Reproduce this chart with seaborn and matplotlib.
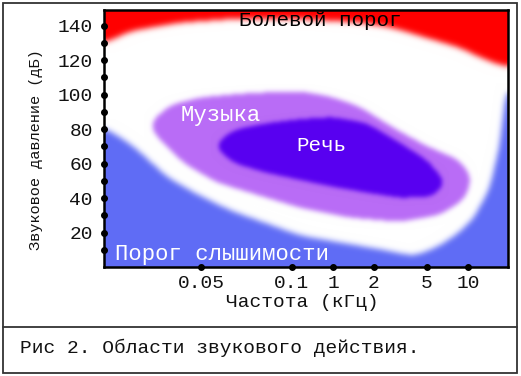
import numpy as np
import matplotlib
matplotlib.use("Agg")
import matplotlib.pyplot as plt
from matplotlib.path import Path
from matplotlib.lines import Line2D
from matplotlib.patches import Rectangle
import seaborn as sns

# ---------------- data ----------------
freq_labels = ["0.05", "0.1", "1", "2", "5", "10"]
freq_pos = [24.0, 46.5, 56.7, 66.8, 79.9, 90.1]          # position along the axis (0-100)
db_ticks = [20, 40, 60, 80, 100, 120, 140]
db_dots = list(range(10, 150, 10))

# pain threshold (lower edge of the red zone)
pain_x = [0, 6.4, 18.8, 31.2, 48.5, 63.4, 71.5, 80.0, 88.1, 94.8, 100]
pain_db = [130, 137, 142, 144, 144, 142, 139, 133, 127.5, 120, 116]

# hearing threshold (upper edge of the blue zone)
hear_x = [0, 7.2, 15.6, 23.8, 31.9, 40.3, 48.5, 58.4, 68.3, 77.0, 83.2, 88.1, 91.3, 95.5, 98.0, 99.3, 100]
hear_db = [81, 70, 52, 41, 32, 25, 18, 14, 10, 6, 12, 20, 27, 45, 70, 95, 105]

# music region outline
music_x = [10.6, 16.3, 23.8, 36.1, 48.5, 55.9, 63.4, 71.5, 80.0, 88.1, 91.3, 89.4,
           83.2, 73.3, 60.9, 48.5, 36.1, 28.0, 19.6, 13.9]
music_db = [82.3, 94, 98.5, 101, 102, 99, 93, 81, 70, 62, 51.6, 39,
            30, 26, 28.4, 34.2, 43, 48.7, 60.3, 73.6]

# speech region outline
speech_x = [27.0, 31.9, 40.3, 48.5, 56.7, 65.1, 73.3, 80.0, 84.9, 81.4, 73.3, 65.1,
            56.7, 48.5, 40.3, 31.9]
speech_db = [70.7, 79.4, 83.5, 85.8, 87, 83.5, 72, 62, 48.7, 40.6, 40, 43,
             46.4, 50.4, 54.5, 60.3]

X_MAX, Y_MAX = 100, 149

col_blue = np.array([95, 108, 245]) / 255
col_red = np.array([255, 0, 0]) / 255
col_music = np.array([185, 108, 246]) / 255
col_speech = np.array([88, 0, 240]) / 255

# ---------------- style ----------------
sns.set_theme(style="white")
plt.rcParams['font.family'] = ['Liberation Mono', 'DejaVu Sans']

fig = plt.figure(figsize=(5.21, 3.76), dpi=100)
ax = fig.add_axes([104 / 521, 1 - 267 / 376, 404 / 521, 257 / 376])

# ---------------- build field ----------------
nx, ny = 404, 257
xs = np.linspace(0, X_MAX, nx)
ys = np.linspace(0, Y_MAX, ny)
XX, YY = np.meshgrid(xs, ys)
pts = np.column_stack([XX.ravel(), YY.ravel()])


def blur(m, s):
    r = int(3 * s) + 1
    k = np.exp(-0.5 * (np.arange(-r, r + 1) / s) ** 2)
    k /= k.sum()
    p = np.pad(m, r, mode='edge')
    p = np.apply_along_axis(lambda v: np.convolve(v, k, mode='valid'), 0, p)
    p = np.apply_along_axis(lambda v: np.convolve(v, k, mode='valid'), 1, p)
    return p


def smooth_mask(m, s_round, s_edge):
    r = (blur(m, s_round) > 0.5).astype(float)
    return np.clip(blur(r, s_edge), 0, 1)


m_blue = (YY < np.interp(xs, hear_x, hear_db)[None, :]).astype(float)
m_red = (YY > np.interp(xs, pain_x, pain_db)[None, :]).astype(float)
m_music = Path(np.column_stack([music_x, music_db])).contains_points(pts).reshape(ny, nx).astype(float)
m_speech = Path(np.column_stack([speech_x, speech_db])).contains_points(pts).reshape(ny, nx).astype(float)

img = np.ones((ny, nx, 3))
for m, c, sr, se in [(m_blue, col_blue, 7, 3.0), (m_red, col_red, 7, 3.0),
                     (m_music, col_music, 7, 2.5), (m_speech, col_speech, 6, 2.3)]:
    b = smooth_mask(m, sr, se)[..., None]
    img = img * (1 - b) + c[None, None, :] * b

ax.imshow(img, extent=[0, X_MAX, 0, Y_MAX], origin='lower', aspect='auto',
          interpolation='bilinear', zorder=1)

ax.set_xlim(0, X_MAX)
ax.set_ylim(0, Y_MAX)

# ticks
ax.set_xticks(freq_pos)
ax.set_xticklabels(freq_labels)
ax.set_yticks(db_ticks)
ax.set_yticklabels([str(v) for v in db_ticks])
ax.tick_params(axis='both', length=0, labelsize=14, colors='#111111')
ax.tick_params(axis='x', pad=6)
ax.tick_params(axis='y', pad=8)

ax.plot(np.zeros(len(db_dots)), db_dots, 'o', ms=4, color='black', clip_on=False, zorder=5)
ax.plot(freq_pos, np.zeros(len(freq_pos)), 'o', ms=4, color='black', clip_on=False, zorder=5)

for sp in ax.spines.values():
    sp.set_visible(True)
    sp.set_color('black')
    sp.set_linewidth(1.8)

ax.set_xlabel("Частота (кГц)", fontsize=14, va='center', color='#111111')
ax.xaxis.set_label_coords(0.49, -0.14)
ax.set_ylabel("Звуковое давление (дБ)", fontsize=11, va='center', color='#111111')
ax.yaxis.set_label_coords(-0.168, 0.455)

# region labels
ax.text(53.5, 143, "Болевой порог", ha='center', va='center', fontsize=15, color='black', zorder=6)
ax.text(29, 88, "Музыка", ha='center', va='center', fontsize=16, color='white', zorder=6)
ax.text(53.7, 70.7, "Речь", ha='center', va='center', fontsize=15, color='white', zorder=6)
ax.text(2.7, 7, "Порог слышимости", ha='left', va='center', fontsize=16, color='white', zorder=6)

# outer frame, separator and caption
fig.add_artist(Rectangle((3 / 521, 3 / 376), 514 / 521, 370 / 376, transform=fig.transFigure,
                         fill=False, lw=1.3, ec='#333333'))
fig.add_artist(Line2D([3 / 521, 517 / 521], [1 - 327 / 376, 1 - 327 / 376],
                      transform=fig.transFigure, lw=1.3, color='#333333'))
fig.text(20 / 521, 1 - 348 / 376, "Рис 2. Области звукового действия.", ha='left', va='center',
         fontsize=14, color='#111111')

fig.savefig("out.png", dpi=100)
